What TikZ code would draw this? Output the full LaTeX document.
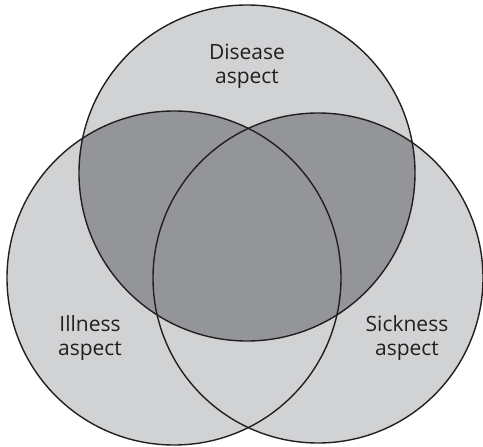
\documentclass[tikz,border=0pt]{standalone}
\usepackage{fontspec}
\setsansfont{Open Sans}
\usepackage{xcolor}
\usepackage{tikz}
\definecolor{lightgrey}{RGB}{209,210,212}
\definecolor{darkgrey}{RGB}{147,149,152}
\definecolor{outline}{RGB}{35,31,32}

\begin{document}
\begin{tikzpicture}[
      x=1pt, y=-1pt,
      ring/.style = {draw=outline, line width=1.4pt},
      label/.style = {align=center, font=\sffamily\fontsize{21}{24}\selectfont,
                      text=outline},
    ]
    \useasboundingbox (0,0) rectangle (483,447);
    \coordinate (disease) at (247,173);
    \coordinate (illness) at (174,278);
    \coordinate (sickness) at (318,278);

    % light grey discs
    \fill[lightgrey] (disease) circle[radius=168pt];
    \fill[lightgrey] (illness) circle[radius=167pt];
    \fill[lightgrey] (sickness) circle[radius=165pt];
    % overlaps with the disease aspect
    \begin{scope}
      \clip (disease) circle[radius=168pt];
      \fill[darkgrey] (illness) circle[radius=167pt];
      \fill[darkgrey] (sickness) circle[radius=165pt];
    \end{scope}

    \draw[ring] (disease) circle[radius=168pt];
    \draw[ring] (illness) circle[radius=167pt];
    \draw[ring] (sickness) circle[radius=165pt];

    \node[label] (dlabel) at (247,66) {Disease\\aspect};
    \node[label] (ilabel) at (90,338) {Illness\\aspect};
    \node[label] (slabel) at (407,338) {Sickness\\aspect};
  \end{tikzpicture}
\end{document}
